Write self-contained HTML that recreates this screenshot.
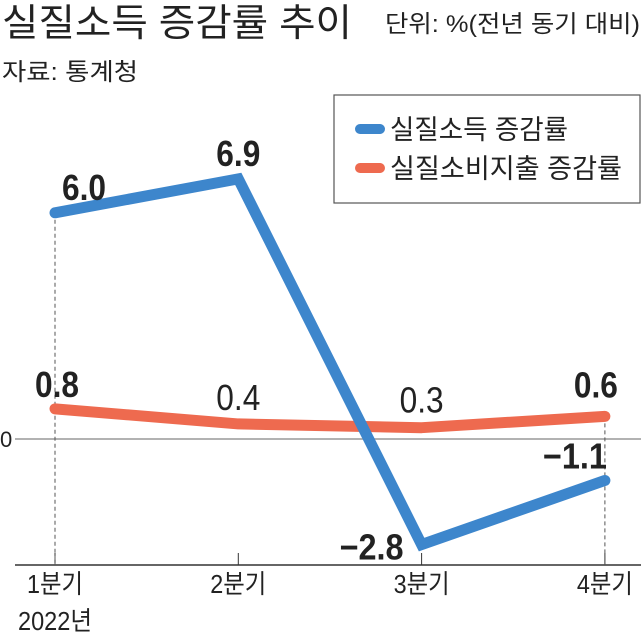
<!DOCTYPE html>
<html><head><meta charset="utf-8"><style>
html,body{margin:0;padding:0;background:#fff;width:641px;height:635px;overflow:hidden}
svg{display:block}
text{font-family:"Liberation Sans Narrow","Liberation Sans","Noto Sans CJK KR",sans-serif;fill:#222}
</style></head><body>
<svg id="c" width="641" height="635" viewBox="0 0 641 635">
<text x="2" y="36" font-size="38" textLength="350" lengthAdjust="spacingAndGlyphs">실질소득 증감률 추이</text>
<text x="385" y="32" font-size="24" textLength="255" lengthAdjust="spacingAndGlyphs">단위: %(전년 동기 대비)</text>
<text x="2" y="80" font-size="24" textLength="136" lengthAdjust="spacingAndGlyphs">자료: 통계청</text>
<g>
<rect x="334" y="95" width="306" height="108" fill="#fff" stroke="#555" stroke-width="1.2"/>
<line x1="360" y1="129" x2="380" y2="129" stroke="#3d86cc" stroke-width="10" stroke-linecap="round"/>
<text x="390" y="139" font-size="27" textLength="178" lengthAdjust="spacingAndGlyphs">실질소득 증감률</text>
<line x1="360" y1="168" x2="380" y2="168" stroke="#ee6a4f" stroke-width="10" stroke-linecap="round"/>
<text x="390" y="178" font-size="27" textLength="232" lengthAdjust="spacingAndGlyphs">실질소비지출 증감률</text>
</g>
<g id="plot"></g>
</svg>
<script>
const categories=["1분기","2분기","3분기","4분기"];
const incomeValues=[6.0,6.9,-2.8,-1.1];
const spendingValues=[0.8,0.4,0.3,0.6];
const incomeLabels=["6.0","6.9","−2.8","−1.1"];
const spendingLabels=["0.8","0.4","0.3","0.6"];
const NS="http://www.w3.org/2000/svg";
const g=document.getElementById('plot');
const xPos=i=>55+i*183.3;
const y=v=>439-v*37.7;
function mk(t,a){const e=document.createElementNS(NS,t);for(const k in a)e.setAttribute(k,a[k]);g.appendChild(e);return e;}
let e;
e=mk('line',{x1:15,y1:y(0),x2:641,y2:y(0),stroke:'#999','stroke-width':1.5});


e=mk('text',{x:0,y:y(0)+8,'font-size':22});e.textContent='0';


e=mk('line',{x1:15,y1:565,x2:641,y2:565,stroke:'#333','stroke-width':1.5});


categories.forEach((c,i)=>{
  const x=xPos(i);
  e=mk('line',{x1:x,y1:553,x2:x,y2:565,stroke:'#333','stroke-width':1});
  
  
  e=mk('text',{x:x,y:593,'font-size':26,'text-anchor':'middle',textLength:56,lengthAdjust:'spacingAndGlyphs'});e.textContent=c;
  
  
});
e=mk('text',{x:18,y:630,'font-size':26,textLength:74,lengthAdjust:'spacingAndGlyphs'});e.textContent='2022년';


[0,3].forEach(i=>{
  const top=Math.min(y(incomeValues[i]),y(spendingValues[i]));
  e=mk('line',{x1:xPos(i),y1:top,x2:xPos(i),y2:565,stroke:'#555','stroke-width':1,'stroke-dasharray':'4,3'});
  
  
});
e=mk('polyline',{points:spendingValues.map((v,i)=>xPos(i)+','+y(v)).join(' '),fill:'none',stroke:'#ee6a4f','stroke-width':11,'stroke-linejoin':'round','stroke-linecap':'round'});


e=mk('polyline',{points:incomeValues.map((v,i)=>xPos(i)+','+y(v)).join(' '),fill:'none',stroke:'#3d86cc','stroke-width':11,'stroke-linejoin':'miter','stroke-linecap':'round'});


const iOff=[[29,-13],[0,-13],[-50,15],[-30,-12]];
incomeValues.forEach((v,i)=>{
  e=mk('text',{x:xPos(i)+iOff[i][0],y:y(v)+iOff[i][1],'font-size':36,'font-weight':'bold','text-anchor':'middle',textLength:incomeLabels[i].length>3?64:44,lengthAdjust:'spacingAndGlyphs'});
  e.textContent=incomeLabels[i];
  
  
});
const sOff=[[2,-12],[0,-14],[0,-15],[-9,-19]];
spendingValues.forEach((v,i)=>{
  e=mk('text',{x:xPos(i)+sOff[i][0],y:y(v)+sOff[i][1],'font-size':36,'text-anchor':'middle',textLength:44,lengthAdjust:'spacingAndGlyphs','font-weight':(i==0||i==3)?'bold':'normal'});
  e.textContent=spendingLabels[i];
  
  
});
</script>
</body></html>
